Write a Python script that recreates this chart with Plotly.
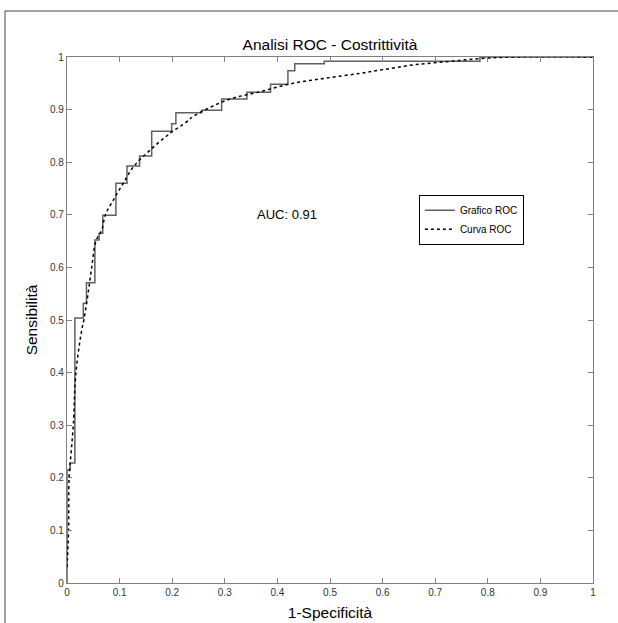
import plotly.graph_objects as go

roc_fpr = [0, 0, 0.006, 0.006, 0.015, 0.015, 0.031, 0.031, 0.037, 0.037, 0.053, 0.053,
           0.061, 0.061, 0.068, 0.068, 0.093, 0.093, 0.114, 0.114, 0.138, 0.138, 0.161, 0.161,
           0.199, 0.199, 0.207, 0.207, 0.256, 0.256, 0.294, 0.294, 0.342, 0.342, 0.387, 0.387,
           0.420, 0.420, 0.433, 0.433, 0.489, 0.489, 0.785, 0.785, 1.0]
roc_tpr = [0, 0.215, 0.215, 0.228, 0.228, 0.504, 0.504, 0.532, 0.532, 0.571, 0.571, 0.652,
           0.652, 0.665, 0.665, 0.699, 0.699, 0.760, 0.760, 0.793, 0.793, 0.812, 0.812, 0.859,
           0.859, 0.873, 0.873, 0.894, 0.894, 0.899, 0.899, 0.920, 0.920, 0.933, 0.933, 0.948,
           0.948, 0.974, 0.974, 0.987, 0.987, 0.992, 0.992, 1.0, 1.0]

# Fitted smooth ROC curve
fit_fpr = [0.0, 0.001, 0.003, 0.004, 0.008, 0.012, 0.017, 0.028, 0.032, 0.040, 0.047, 0.055,
           0.066, 0.073, 0.088, 0.107, 0.126, 0.158, 0.196, 0.228, 0.240, 0.304, 0.367, 0.430,
           0.494, 0.557, 0.601, 0.658, 0.722, 0.785, 0.85, 1.0]
fit_tpr = [0.03, 0.05, 0.10, 0.20, 0.25, 0.30, 0.40, 0.481, 0.50, 0.55, 0.60, 0.65,
           0.671, 0.700, 0.728, 0.760, 0.791, 0.823, 0.855, 0.877, 0.887, 0.918, 0.934, 0.950,
           0.960, 0.969, 0.976, 0.985, 0.991, 0.997, 1.0, 1.0]

ticks = [0, 0.1, 0.2, 0.3, 0.4, 0.5, 0.6, 0.7, 0.8, 0.9, 1]
auc_text = "AUC: 0.91"

FONT = "Liberation Sans, Arial, sans-serif"

fig = go.Figure()
fig.add_trace(go.Scatter(x=roc_fpr, y=roc_tpr, mode="lines", name="Grafico ROC",
                         line=dict(color="#606060", width=1.5)))
fig.add_trace(go.Scatter(x=fit_fpr, y=fit_tpr, mode="lines", name="Curva ROC",
                         line=dict(color="#000000", width=1.5, dash="dot", shape="spline")))

axis_common = dict(range=[0, 1], tickvals=ticks, ticks="inside", ticklen=5, tickcolor="#808080",
                   showline=True, linecolor="#808080", linewidth=1.2, mirror="ticks",
                   showgrid=False, zeroline=False, automargin=False,
                   tickfont=dict(family=FONT, size=10, color="#333333"))

fig.update_layout(
    width=618, height=623,
    margin=dict(l=67, r=25, t=57, b=40),
    paper_bgcolor="white", plot_bgcolor="white",
    title=dict(text="Analisi ROC - Costrittività", x=(67 + 263) / 618, xanchor="center",
               y=1 - 45 / 623, yanchor="middle",
               font=dict(family=FONT, size=15.5, color="#000000")),
    xaxis=dict(**axis_common, title=dict(text="1-Specificità", standoff=10,
                                         font=dict(family=FONT, size=15.5, color="#000000"))),
    yaxis=dict(**axis_common, title=dict(text="Sensibilità", standoff=8,
                                         font=dict(family=FONT, size=15.5, color="#000000"))),
    legend=dict(x=0.669, y=0.738, xanchor="left", yanchor="top",
                bordercolor="#000000", borderwidth=1, bgcolor="white",
                font=dict(family=FONT, size=10, color="#000000"),
                itemwidth=30, tracegroupgap=0),
    showlegend=True,
)

fig.add_annotation(x=0.357, y=0.70, xref="x", yref="y", text=auc_text, showarrow=False,
                   xanchor="left", yanchor="middle",
                   font=dict(family=FONT, size=13, color="#000000"))

# Outer frame (left and top edges visible)
fx0 = (5 - 67) / 526
fy1 = (583 - 11) / 526
fx1 = (618 - 67) / 526
fy0 = (583 - 623) / 526
fig.add_shape(type="line", xref="paper", yref="paper", x0=fx0, x1=fx0, y0=fy0, y1=fy1,
              line=dict(color="#444444", width=1))
fig.add_shape(type="line", xref="paper", yref="paper", x0=fx0, x1=fx1, y0=fy1, y1=fy1,
              line=dict(color="#444444", width=1))

fig.write_html("out.html", config={"displayModeBar": False},
               post_script="document.body.style.margin='0px';")
